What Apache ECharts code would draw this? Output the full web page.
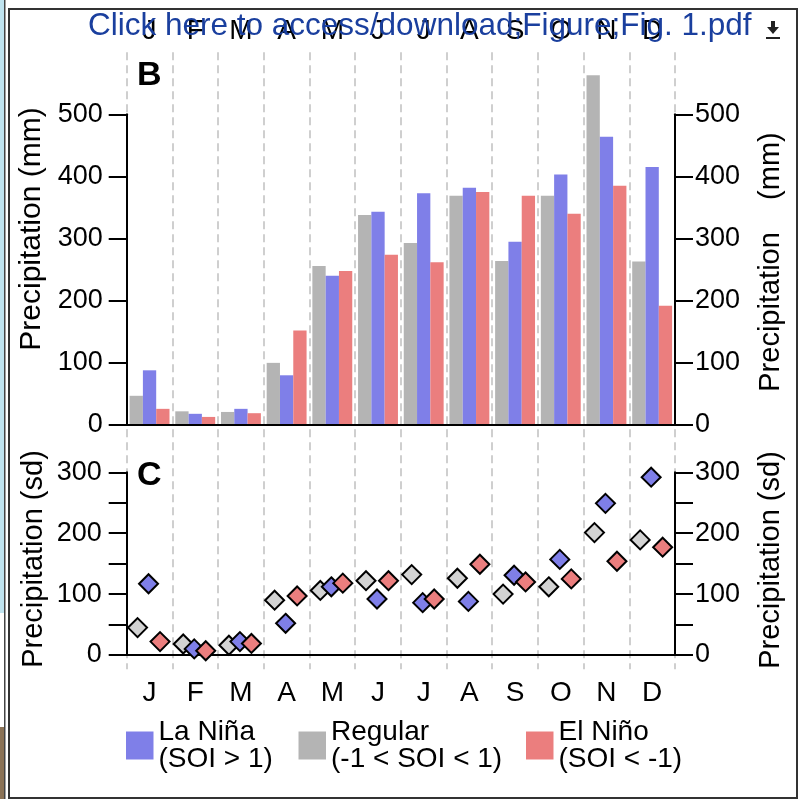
<!DOCTYPE html>
<html>
<head>
<meta charset="utf-8">
<title>Monthly precipitation by SOI phase</title>
<script src="https://cdn.jsdelivr.net/npm/echarts@6/dist/echarts.min.js"></script>
<style>
  html, body { margin: 0; padding: 0; background: #ffffff; }
  #chart { width: 809px; height: 799px; }
</style>
</head>
<body>
<div id="chart"></div>
<script>
// Month initials shared by both panels
const months = ['J', 'F', 'M', 'A', 'M', 'J', 'J', 'A', 'S', 'O', 'N', 'D'];

// Panel B: mean monthly precipitation (mm)
const precipRegular = [47, 22, 21, 100, 256, 338, 293, 369, 264, 369, 563, 263];
const precipLaNina  = [88, 18, 26, 80, 240, 343, 373, 382, 295, 403, 464, 415];
const precipElNino  = [26, 13, 19, 152, 248, 274, 262, 375, 369, 340, 385, 192];

// Panel C: standard deviation of monthly precipitation
const sdRegular = [45, 18, 16, 90, 106, 122, 132, 126, 100, 112, 201, 189];
const sdLaNina  = [117, 10, 22, 52, 112, 92, 86, 88, 131, 157, 249, 292];
const sdElNino  = [22, 7, 19, 97, 118, 122, 92, 149, 120, 125, 154, 177];

// Axis tick values
const ticksB = [0, 100, 200, 300, 400, 500];
const ticksC = [0, 100, 200, 300];

const FONT = "'Liberation Sans', Arial, Helvetica, sans-serif";
const COL = {
  laNina: '#7f7fe8',
  regular: '#b4b4b4',
  regularDot: '#d3d3d3',
  elNino: '#eb7e7e'
};

const chart = echarts.init(document.getElementById('chart'), null, { renderer: 'canvas' });

const L = 126.7, R = 134;
const axisBlack = { lineStyle: { color: '#000', width: 2 } };

function valueAxis(grid, pos, max, interval, margin, labelled) {
  return {
    type: 'value', gridIndex: grid, position: pos,
    min: 0, max: max, interval: interval,
    axisLine: { show: true, lineStyle: { color: '#000', width: 2 } },
    axisTick: { show: true, inside: false, length: 18, lineStyle: { color: '#000', width: 2 } },
    axisLabel: {
      show: true, margin: margin, color: '#000', fontSize: 27, fontFamily: FONT,
      formatter: v => (labelled.indexOf(v) >= 0 ? String(v) : '')
    },
    splitLine: { show: false }
  };
}

const option = {
  animation: false,
  backgroundColor: '#ffffff',
  grid: [
    // shared frame for the dashed month separators spanning both panels
    { left: L, right: R, top: 52.3, bottom: 799 - 669.3, outerBoundsMode: 'none', containLabel: false },
    // panel B
    { left: L, right: R, top: 114.3, bottom: 799 - 425, outerBoundsMode: 'none', containLabel: false },
    // panel C
    { left: L, right: R, top: 472.3, bottom: 799 - 655, outerBoundsMode: 'none', containLabel: false }
  ],
  xAxis: [
    {
      type: 'value', gridIndex: 0, min: 0, max: 12, interval: 1, z: 0,
      axisLine: { show: false }, axisTick: { show: false }, axisLabel: { show: false },
      splitLine: { show: true, lineStyle: { color: '#c4c4c4', width: 1.6, type: [8, 5] } }
    },
    {
      type: 'category', gridIndex: 1, position: 'top', offset: 62, data: months, z: 3,
      axisLine: axisBlack, axisTick: { show: false },
      axisLabel: { color: '#000', fontSize: 28, fontFamily: FONT, margin: 7 },
      splitLine: { show: false }
    },
    {
      type: 'category', gridIndex: 1, position: 'bottom', offset: 1, data: months, z: 1,
      axisLine: { lineStyle: { color: '#c8c8c8', width: 2 } },
      axisTick: { show: false }, axisLabel: { show: false }, splitLine: { show: false }
    },
    {
      type: 'category', gridIndex: 2, position: 'bottom', offset: 14.3, data: months, z: 3,
      axisLine: axisBlack, axisTick: { show: false },
      axisLabel: { color: '#000', fontSize: 28, fontFamily: FONT, margin: 10 },
      splitLine: { show: false }
    }
  ],
  yAxis: [
    { type: 'value', gridIndex: 0, show: false, min: 0, max: 1, splitLine: { show: false } },
    Object.assign(valueAxis(1, 'left', 500, 100, 24, ticksB), { z: 3 }),
    Object.assign(valueAxis(1, 'right', 500, 100, 20, ticksB), { z: 3 }),
    Object.assign(valueAxis(2, 'left', 300, 50, 25, ticksC), { z: 3 }),
    Object.assign(valueAxis(2, 'right', 300, 50, 20, ticksC), { z: 3 })
  ],
  legend: [
    { name: 'La Niña', sub: '(SOI > 1)', left: 126, color: COL.laNina },
    { name: 'Regular', sub: '(-1 < SOI < 1)', left: 298.5, color: COL.regular },
    { name: 'El Niño', sub: '(SOI < -1)', left: 526, color: COL.elNino }
  ].map(d => ({
    data: [{ name: d.name, icon: 'rect', itemStyle: { color: d.color, borderWidth: 0 } }],
    left: d.left, top: 718, orient: 'horizontal', padding: 0,
    itemWidth: 27.5, itemHeight: 28, selectedMode: false,
    formatter: () => d.name + '\n' + d.sub,
    textStyle: { color: '#000', fontSize: 28, fontFamily: FONT, lineHeight: 27 }
  })),
  series: [
    { name: 'Regular', type: 'bar', xAxisIndex: 1, yAxisIndex: 1, data: precipRegular,
      barWidth: 13.3, barGap: '0%', clip: false, itemStyle: { color: COL.regular } },
    { name: 'La Niña', type: 'bar', xAxisIndex: 1, yAxisIndex: 1, data: precipLaNina,
      barWidth: 13.3, barGap: '0%', clip: false, itemStyle: { color: COL.laNina } },
    { name: 'El Niño', type: 'bar', xAxisIndex: 1, yAxisIndex: 1, data: precipElNino,
      barWidth: 13.3, barGap: '0%', clip: false, itemStyle: { color: COL.elNino } },
    { name: 'Regular', type: 'scatter', xAxisIndex: 3, yAxisIndex: 3, data: sdRegular,
      symbol: 'diamond', symbolSize: 19, symbolOffset: [-12, 0], clip: false, z: 4,
      itemStyle: { color: COL.regularDot, borderColor: '#000', borderWidth: 2, opacity: 1 } },
    { name: 'La Niña', type: 'scatter', xAxisIndex: 3, yAxisIndex: 3, data: sdLaNina,
      symbol: 'diamond', symbolSize: 19, symbolOffset: [-1, 0], clip: false, z: 4,
      itemStyle: { color: COL.laNina, borderColor: '#000', borderWidth: 2, opacity: 1 } },
    { name: 'El Niño', type: 'scatter', xAxisIndex: 3, yAxisIndex: 3, data: sdElNino,
      symbol: 'diamond', symbolSize: 19, symbolOffset: [10.5, 0], clip: false, z: 4,
      itemStyle: { color: COL.elNino, borderColor: '#000', borderWidth: 2, opacity: 1 } }
  ],
  graphic: [
    // page frame and window edge
    { type: 'rect', shape: { x: 0, y: 0, width: 4, height: 613 }, style: { fill: '#bfe3ef' }, silent: true },
    { type: 'rect', shape: { x: 0, y: 727, width: 4, height: 72 }, style: { fill: '#8a7256' }, silent: true },
    { type: 'rect', shape: { x: 4, y: 0, width: 1.5, height: 799 }, style: { fill: '#444' }, silent: true },
    { type: 'rect', shape: { x: 9, y: 9, width: 788, height: 789 },
      style: { fill: 'none', stroke: '#333', lineWidth: 2 }, silent: true },
    // document link header
    { type: 'text', x: 88, y: 26, z: 10,
      style: { text: 'Click here to access/download;Figure;Fig. 1.pdf', fill: '#1a3f9e',
               font: '31.5px ' + FONT, verticalAlign: 'middle', align: 'left' } },
    { type: 'polygon', z: 10, shape: { points: [[767, 27], [779, 27], [773, 34]] }, style: { fill: '#222' } },
    { type: 'rect', z: 10, shape: { x: 771, y: 21, width: 4, height: 7 }, style: { fill: '#222' } },
    { type: 'rect', z: 10, shape: { x: 766, y: 37, width: 14, height: 2 }, style: { fill: '#222' } },
    // panel letters
    { type: 'text', x: 137, y: 76, style: { text: 'B', fill: '#000', font: 'bold 34px ' + FONT, verticalAlign: 'middle' } },
    { type: 'text', x: 137, y: 476, style: { text: 'C', fill: '#000', font: 'bold 34px ' + FONT, verticalAlign: 'middle' } },
    // axis titles
    { type: 'text', x: 32, y: 229, rotation: Math.PI / 2,
      style: { text: 'Precipitation (mm)', fill: '#000', font: '30px ' + FONT, align: 'center', verticalAlign: 'middle' } },
    { type: 'text', x: 771, y: 262, rotation: Math.PI / 2,
      style: { text: 'Precipitation    (mm)', fill: '#000', font: '29px ' + FONT, align: 'center', verticalAlign: 'middle' } },
    { type: 'text', x: 34, y: 559, rotation: Math.PI / 2,
      style: { text: 'Precipitation (sd)', fill: '#000', font: '29px ' + FONT, align: 'center', verticalAlign: 'middle' } },
    { type: 'text', x: 771, y: 560, rotation: Math.PI / 2,
      style: { text: 'Precipitation (sd)', fill: '#000', font: '29px ' + FONT, align: 'center', verticalAlign: 'middle' } }
  ]
};

chart.setOption(option);
</script>
</body>
</html>
